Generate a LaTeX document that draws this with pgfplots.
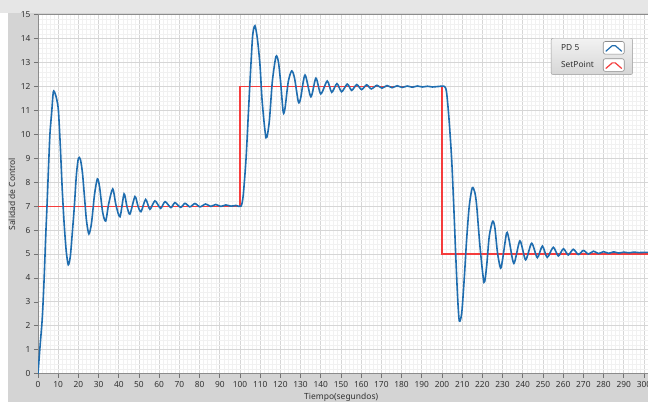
\documentclass[border=0pt]{standalone}
\usepackage{pgfplots}
\pgfplotsset{compat=1.18}
\usepackage{fontspec}
\setmainfont{Noto Sans}
\definecolor{pdblue}{RGB}{31,109,175}
\definecolor{spred}{RGB}{245,60,60}
\definecolor{panel}{RGB}{212,212,212}
\definecolor{topband}{RGB}{230,230,230}
\definecolor{majgrid}{RGB}{214,214,214}
\definecolor{mingrid}{RGB}{241,241,241}
\definecolor{ticktxt}{RGB}{50,50,50}
\begin{document}
\begin{tikzpicture}[x=1bp,y=1bp]
\useasboundingbox (0,0) rectangle (648,402);
\clip (0,0) rectangle (648,402);
\fill[white] (0,0) rectangle (648,402);
\fill[panel] (8,0) rectangle (648,389);
\fill[topband] (0,389) rectangle (648,402);
\begin{axis}[
  at={(38bp,28.3bp)}, anchor=south west,
  scale only axis, width=610bp, height=359bp,
  xmin=0, xmax=302, ymin=0, ymax=15,
  xtick={0,10,...,300}, ytick={0,1,...,15},
  minor x tick num=4, minor y tick num=4,
  grid=both,
  axis background/.style={fill=white},
  axis line style={draw=black!45, line width=0.8bp},
  tick align=outside, tick pos=left,
  major tick length=4bp, minor tick length=0bp,
  major tick style={draw=black!55, line width=0.8bp},
  major grid style={draw=majgrid, line width=0.9bp},
  minor grid style={draw=mingrid, line width=0.5bp},
  ticklabel style={font=\fontsize{8.4}{9}\selectfont, text=ticktxt},
  /pgf/number format/assume math mode=true,
  /pgf/number format/1000 sep={},
  xlabel={Tiempo(segundos)}, ylabel={Salidad de Control},
  label style={font=\fontsize{8.5}{10}\selectfont, text=ticktxt},
  xlabel style={at={(axis description cs:0.497,-0.065)}, anchor=center},
  ylabel style={at={(axis description cs:-0.0426,0.5)}, anchor=center},
  legend style={at={(0.975,0.935)}, anchor=north east, draw=black!40,
    rounded corners=2bp, top color=white!95!black, bottom color=white!84!black,
    font=\fontsize{8.4}{9}\selectfont, text=ticktxt,
    inner xsep=8bp, inner ysep=3bp, row sep=4bp, column sep=7bp,
    nodes={inner sep=2bp}},
  legend cell align=left, legend plot pos=right, reverse legend,
  legend image code/.code={
    \draw[draw=black!45, fill=white, line width=0.6bp, solid] (0bp,-6.3bp) rectangle (21bp,6.3bp);
    \draw[#1, line width=1.2bp] (2.5bp,-3.5bp) -- (10.5bp,3.5bp) -- (18.5bp,-3.5bp);
  },
]
\addplot[spred, line width=1.3bp] coordinates {(0,7) (100,7) (100,12) (200,12) (200,5) (302,5)};
\addlegendentry{SetPoint}
\addplot[pdblue, line width=1.6bp, smooth, tension=0.45] coordinates {
(0,0) (1,1.13) (2.1,2.3) (3,3.9) (3.8,5.7) (4.5,7.1) (5.2,8.6) (5.9,10.0) (6.8,10.95) (7.6,11.78) (8.5,11.7) (9.3,11.45)
(10.1,11.0) (11,9.6) (12,7.7) (13,6.2) (14,5.1) (15,4.55) (16,4.9) (17,5.9) (18,7.0) (19,8.3) (20,9.0) (21,8.95) (22,8.4)
(23,7.4) (24,6.4) (25.2,5.84) (26.5,6.3) (28,7.5) (29.4,8.14) (30.5,7.8) (32,6.75) (33.5,6.38) (35,7.1) (37,7.72)
(38.6,7.05) (40.6,6.56) (42.6,7.51) (44,7.0) (45.5,6.67) (48,7.4) (49.5,7.0) (51,6.77) (53.3,7.28) (55.4,6.87)
(57.9,7.22) (60.7,6.91) (62.9,7.19) (65.8,6.94) (67.8,7.15) (70.6,6.95) (72.8,7.12) (75.2,6.97) (77.7,7.11)
(80.2,6.97) (83,7.09) (85.5,6.99) (88,7.07) (90.5,6.99) (93,7.05) (95.5,7.0) (98,7.03) (100.5,7.0)
(101.6,7.45) (103,8.99) (104.1,10.8) (105.3,12.75) (106.3,14.15) (107.4,14.54) (108.6,14.0) (109.9,12.9) (111,11.36)
(112.9,9.86) (114.5,10.53) (116,12.2) (117.8,13.25) (119,13.04) (120.1,12.2) (121.4,10.93) (122.3,11.1) (123.9,12.2)
(125.6,12.65) (127,12.35) (128.9,11.36) (130,11.5) (132.2,12.48) (135.1,11.57) (137.6,12.35) (140,11.69) (143.2,12.23)
(145.4,11.76) (148,12.12) (150.3,11.78) (153.1,12.1) (155.3,11.84) (157.8,12.08) (160.2,11.87) (162.7,12.07) (165,11.9)
(167.8,12.05) (170.3,11.93) (172.8,12.04) (175.3,11.95) (177.8,12.03) (180.3,11.96) (182.8,12.02) (185.3,11.97)
(187.8,12.02) (190.3,11.98) (192.8,12.01) (195.3,11.98) (198,12.0) (201.3,12.0)
(202.3,11.73) (203.5,10.62) (204.8,8.95) (205.9,6.86) (206.9,4.77) (207.8,3.1) (208.6,2.2) (209.8,2.55) (211.1,4.08)
(212.2,5.6) (213.5,7.0) (215,7.77) (216.3,7.56) (217.2,7.0) (218.8,5.33) (220.8,3.82) (222.1,4.49) (223.4,5.74)
(225.1,6.37) (226.2,6.09) (227.5,5.04) (229,4.41) (230,4.77) (232,5.88) (233.2,5.6) (235.6,4.61) (238.6,5.55)
(241.4,4.76) (244.4,5.45) (247.2,4.85) (249.7,5.33) (252.1,4.86) (255.1,5.28) (257.6,4.92) (260.1,5.22) (262.5,4.96)
(265,5.2) (267.5,4.98) (270,5.15) (272.5,5.0) (275,5.12) (277.5,5.02) (280,5.1) (282.5,5.03) (285,5.09) (287.5,5.04)
(290,5.08) (292.5,5.05) (295,5.08) (297.5,5.06) (300,5.07) (302,5.07)
};
\addlegendentry{PD 5}
\end{axis}
\end{tikzpicture}
\end{document}
